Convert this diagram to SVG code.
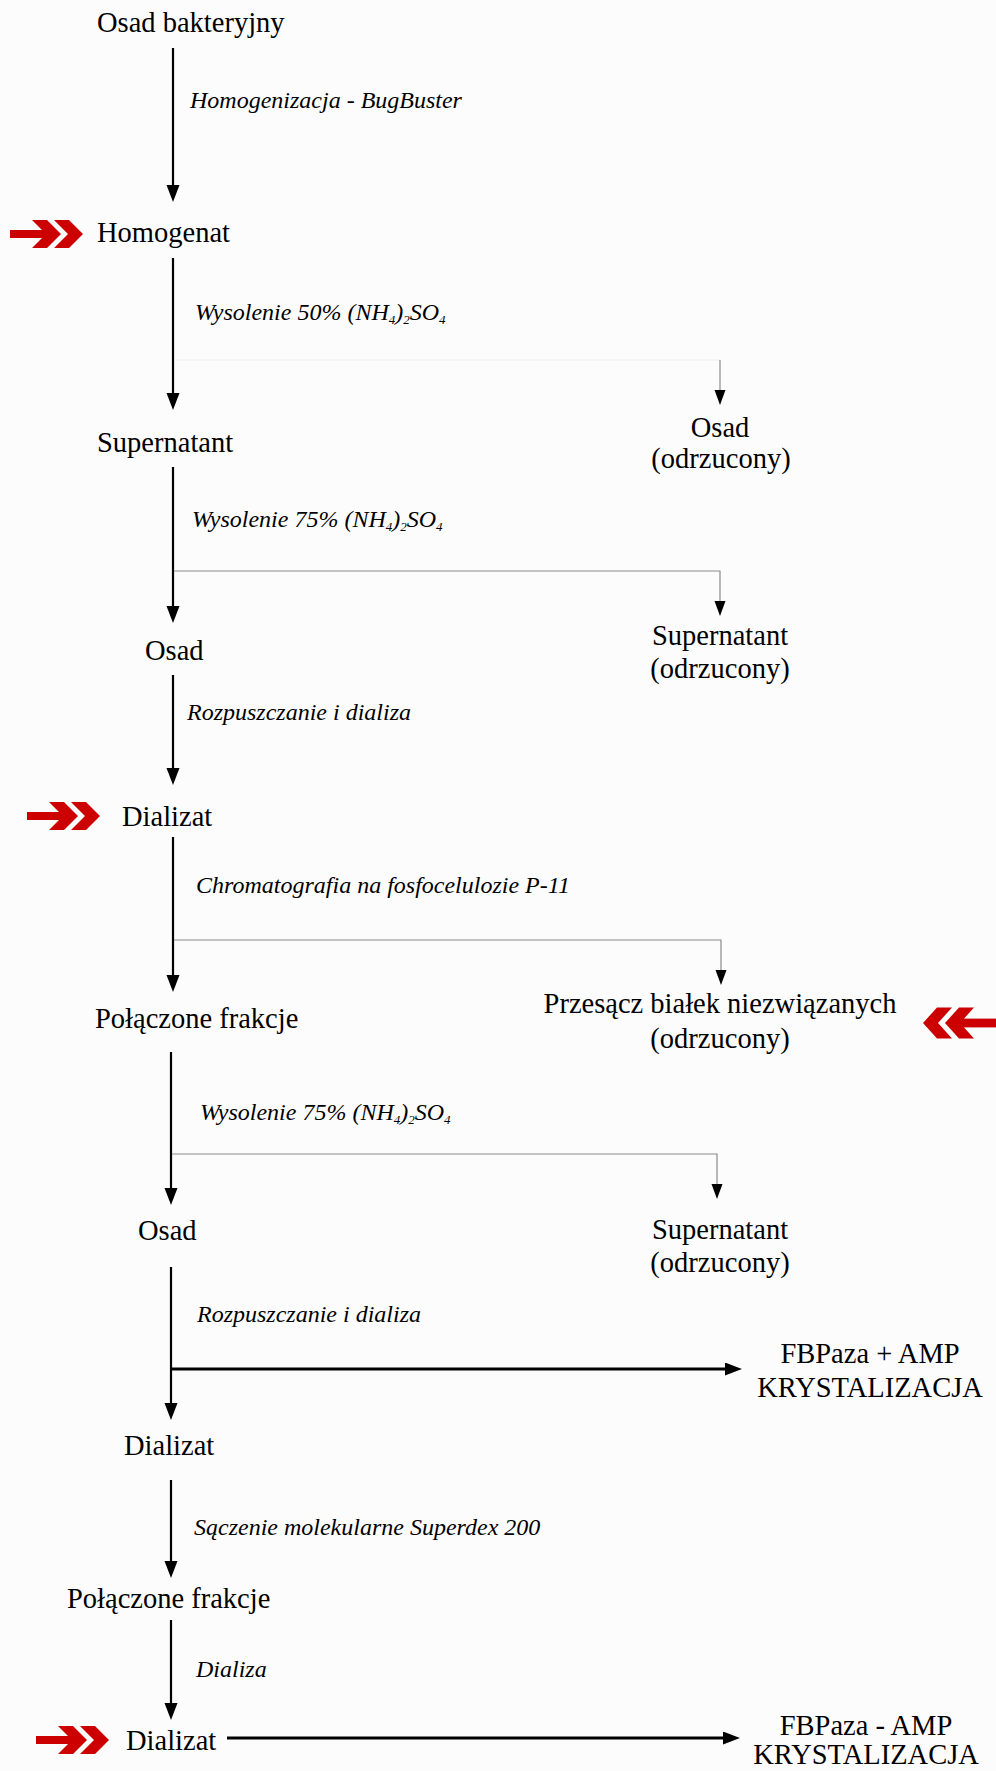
<svg xmlns="http://www.w3.org/2000/svg" xmlns:xlink="http://www.w3.org/1999/xlink" width="996" height="1771" viewBox="0 0 996 1771">
<style>
.n{font-family:"Liberation Serif","Times New Roman",serif;font-size:28.5px;fill:#000}
.r{text-anchor:middle}
.l{font-family:"Liberation Serif","Times New Roman",serif;font-size:24px;font-style:italic;fill:#000}
.sub{font-size:13px}
.main{stroke:#000;stroke-width:2.2;fill:none}
.h{stroke:#000;stroke-width:3;fill:none}
.br{stroke:#8a8a8a;stroke-width:1.2;fill:none}
.faint{stroke:#eeeeee;stroke-width:1;fill:none}
.red{fill:#cc0000}
</style>
<defs>
<marker id="ah" markerUnits="userSpaceOnUse" markerWidth="18" markerHeight="14" refX="9" refY="6.5" orient="auto" viewBox="0 0 18 14"><path d="M0,0 L17,6.5 L0,13 z" fill="#000"/></marker>
<marker id="ahs" markerUnits="userSpaceOnUse" markerWidth="16" markerHeight="12" refX="7" refY="5.5" orient="auto" viewBox="0 0 16 12"><path d="M0,0 L15,5.5 L0,11 z" fill="#000"/></marker>
<g id="chev" class="red">
<rect x="0" y="-4" width="37" height="8"/>
<polygon points="22,-14 37,-14 51,0 37,14 22,14 36,0"/>
<polygon points="44,-14 59,-14 73,0 59,14 44,14 58,0"/>
</g>
</defs>
<rect x="0" y="0" width="996" height="1771" fill="#fcfcfc"/>
<g id="connectors">
<line class="main" x1="173" y1="48" x2="173" y2="194" marker-end="url(#ah)"/>
<line class="main" x1="173" y1="258" x2="173" y2="402" marker-end="url(#ah)"/>
<line class="faint" x1="174" y1="360" x2="720" y2="360"/>
<line class="br" x1="720" y1="360" x2="720" y2="397" marker-end="url(#ahs)"/>
<line class="main" x1="173" y1="467" x2="173" y2="615" marker-end="url(#ah)"/>
<polyline class="br" points="174,571 720,571 720,608" marker-end="url(#ahs)"/>
<line class="main" x1="173" y1="675" x2="173" y2="777" marker-end="url(#ah)"/>
<line class="main" x1="173" y1="837" x2="173" y2="984" marker-end="url(#ah)"/>
<polyline class="br" points="174,940 721,940 721,977" marker-end="url(#ahs)"/>
<line class="main" x1="171" y1="1052" x2="171" y2="1197" marker-end="url(#ah)"/>
<polyline class="br" points="172,1154 717,1154 717,1191" marker-end="url(#ahs)"/>
<line class="main" x1="171" y1="1267" x2="171" y2="1412" marker-end="url(#ah)"/>
<line class="h" x1="171" y1="1369" x2="734" y2="1369" marker-end="url(#ah)"/>
<line class="main" x1="171" y1="1480" x2="171" y2="1570" marker-end="url(#ah)"/>
<line class="main" x1="171" y1="1620" x2="171" y2="1712" marker-end="url(#ah)"/>
<line class="h" x1="227" y1="1738" x2="732" y2="1738" marker-end="url(#ah)"/>
</g>
<g id="labels">
<text class="l" x="190" y="108">Homogenizacja - BugBuster</text>
<text class="l" x="195" y="320">Wysolenie 50% (NH<tspan class="sub" dy="4">4</tspan><tspan dy="-4">)</tspan><tspan class="sub" dy="4">2</tspan><tspan dy="-4">SO</tspan><tspan class="sub" dy="4">4</tspan></text>
<text class="l" x="192" y="527">Wysolenie 75% (NH<tspan class="sub" dy="4">4</tspan><tspan dy="-4">)</tspan><tspan class="sub" dy="4">2</tspan><tspan dy="-4">SO</tspan><tspan class="sub" dy="4">4</tspan></text>
<text class="l" x="187" y="720">Rozpuszczanie i dializa</text>
<text class="l" x="196" y="893">Chromatografia na fosfocelulozie P-11</text>
<text class="l" x="200" y="1120">Wysolenie 75% (NH<tspan class="sub" dy="4">4</tspan><tspan dy="-4">)</tspan><tspan class="sub" dy="4">2</tspan><tspan dy="-4">SO</tspan><tspan class="sub" dy="4">4</tspan></text>
<text class="l" x="197" y="1322">Rozpuszczanie i dializa</text>
<text class="l" x="194" y="1535">Sączenie molekularne Superdex 200</text>
<text class="l" x="196" y="1677">Dializa</text>
</g>
<g id="n-osad-bakteryjny"><text class="n" x="97" y="32">Osad bakteryjny</text></g>
<g id="n-homogenat"><use xlink:href="#chev" href="#chev" transform="translate(10,234)"/><text class="n" x="97" y="242">Homogenat</text></g>
<g id="n-supernatant1"><text class="n" x="97" y="452">Supernatant</text></g>
<g id="n-osad-odrz"><text class="n r" x="720" y="437">Osad</text><text class="n r" x="721" y="468">(odrzucony)</text></g>
<g id="n-osad1"><text class="n" x="145" y="660">Osad</text></g>
<g id="n-super-odrz1"><text class="n r" x="720" y="645">Supernatant</text><text class="n r" x="720" y="678">(odrzucony)</text></g>
<g id="n-dializat1"><use xlink:href="#chev" href="#chev" transform="translate(27,816)"/><text class="n" x="122" y="826">Dializat</text></g>
<g id="n-polaczone1"><text class="n" x="95" y="1028">Połączone frakcje</text></g>
<g id="n-przesacz"><text class="n r" x="720" y="1013">Przesącz białek niezwiązanych</text><text class="n r" x="720" y="1048">(odrzucony)</text><use xlink:href="#chev" href="#chev" transform="translate(996,1023) scale(-1,1.1)"/></g>
<g id="n-osad2"><text class="n" x="138" y="1240">Osad</text></g>
<g id="n-super-odrz2"><text class="n r" x="720" y="1239">Supernatant</text><text class="n r" x="720" y="1272">(odrzucony)</text></g>
<g id="n-fbp-plus"><text class="n r" x="870" y="1363">FBPaza + AMP</text><text class="n r" x="870" y="1397">KRYSTALIZACJA</text></g>
<g id="n-dializat2"><text class="n" x="124" y="1455">Dializat</text></g>
<g id="n-polaczone2"><text class="n" x="67" y="1608">Połączone frakcje</text></g>
<g id="n-dializat3"><use xlink:href="#chev" href="#chev" transform="translate(36,1740)"/><text class="n" x="126" y="1750">Dializat</text></g>
<g id="n-fbp-minus"><text class="n r" x="866" y="1735">FBPaza - AMP</text><text class="n r" x="866" y="1764">KRYSTALIZACJA</text></g>
</svg>
